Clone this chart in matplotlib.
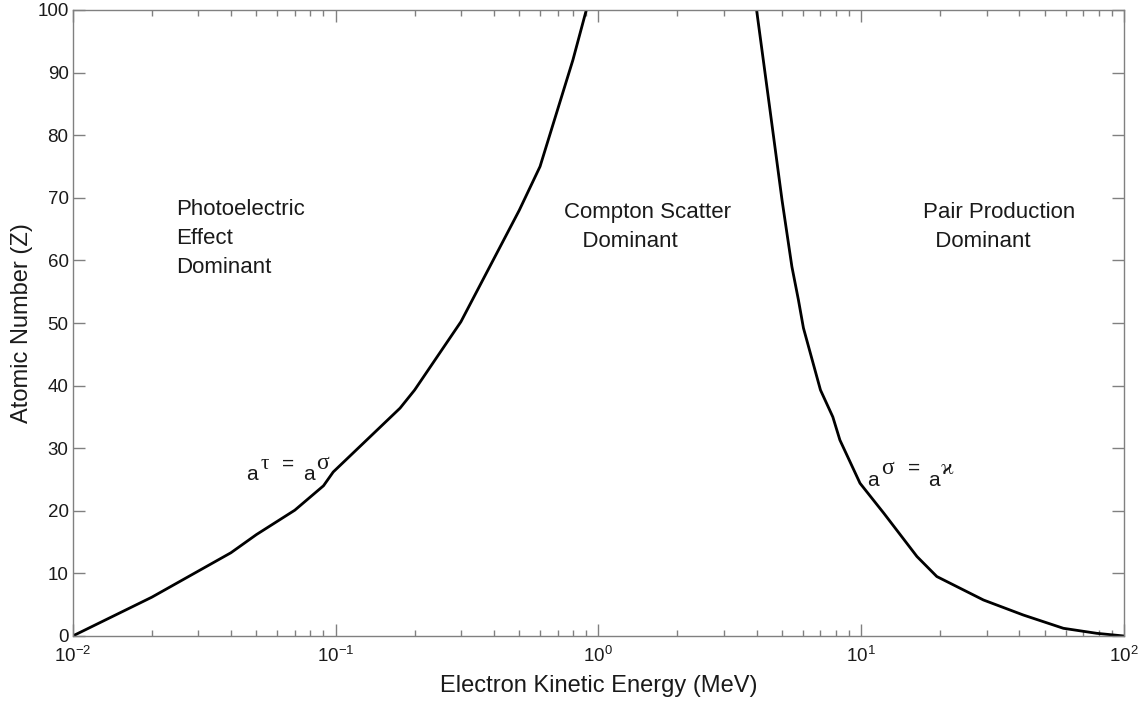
import matplotlib
matplotlib.use("Agg")
import matplotlib.pyplot as plt
from matplotlib.ticker import LogLocator, NullFormatter, LogFormatterMathtext, MultipleLocator

# ---- data ----
E_left = [0.01, 0.02, 0.04, 0.05, 0.07, 0.09, 0.098, 0.176, 0.2, 0.3, 0.5, 0.6, 0.8, 0.9]
Z_left = [0, 6.2, 13.3, 16.2, 20.1, 24.0, 26.2, 36.4, 39.3, 50.2, 68.0, 75.0, 92.0, 100]

E_right = [4.0, 4.5, 5.0, 5.45, 5.77, 6.03, 7.0, 7.8, 8.3, 9.9, 12.2, 16.3, 19.4, 29.2, 41.4, 58.8, 78.7, 100]
Z_right = [100, 84.0, 69.6, 59.0, 53.7, 49.2, 39.3, 35.0, 31.3, 24.4, 19.6, 12.7, 9.5, 5.75, 3.35, 1.23, 0.43, 0]

region_labels = ["Photoelectric\nEffect\nDominant", "Compton Scatter\n   Dominant", "Pair Production\n  Dominant"]
x_label = "Electron Kinetic Energy (MeV)"
y_label = "Atomic Number (Z)"

plt.rcParams['font.family'] = ['Liberation Sans', 'DejaVu Sans']
plt.rcParams['mathtext.fontset'] = 'custom'
plt.rcParams['mathtext.rm'] = 'Liberation Sans'
plt.rcParams['mathtext.it'] = 'Liberation Sans:italic'
plt.rcParams['mathtext.bf'] = 'Liberation Sans:bold'

W, H = 1145, 706
fig = plt.figure(figsize=(W / 100, H / 100), dpi=100)
ax_l, ax_r, ax_t, ax_b = 72.7, 1124.0, 10.0, 636.0
ax = fig.add_axes([ax_l / W, 1 - ax_b / H, (ax_r - ax_l) / W, (ax_b - ax_t) / H])

ax.plot(E_left, Z_left, color='black', lw=2.0)
ax.plot(E_right, Z_right, color='black', lw=2.0)

ax.set_xscale('log')
ax.set_xlim(1e-2, 1e2)
ax.set_ylim(0, 100)
ax.xaxis.set_major_locator(LogLocator(base=10, numticks=10))
ax.xaxis.set_minor_locator(LogLocator(base=10, subs=range(2, 10), numticks=10))
ax.xaxis.set_minor_formatter(NullFormatter())
ax.xaxis.set_major_formatter(LogFormatterMathtext())
ax.yaxis.set_major_locator(MultipleLocator(10))

spine_col = '#808080'
for s in ax.spines.values():
    s.set_color(spine_col)
    s.set_linewidth(1.0)
txt_col = '#1a1a1a'
ax.tick_params(which='both', direction='in', top=True, right=True, color=spine_col,
               labelsize=13.5, labelcolor=txt_col)
ax.tick_params(which='major', length=8.5, width=1.0)
ax.tick_params(which='minor', length=4.3, width=1.0)
ax.tick_params(axis='x', pad=7)
ax.tick_params(axis='y', pad=3)

ax.set_xlabel(x_label, fontsize=17, color=txt_col)
ax.set_ylabel(y_label, fontsize=17, color=txt_col)
ax.xaxis.set_label_coords(0.5, -(686 - ax_b) / (ax_b - ax_t), transform=ax.transAxes)
ax.xaxis.label.set_va('center')
ax.yaxis.set_label_coords(-(ax_l - 22) / (ax_r - ax_l), 0.5, transform=ax.transAxes)
ax.yaxis.label.set_va('center')

def fx(px):
    return px / W
def fy(py):
    return 1 - py / H

for (px, py), lab in zip([(176, 199), (564, 202), (923, 202)], region_labels):
    fig.text(fx(px), fy(py), lab, fontsize=16, va='top', ha='left',
             linespacing=1.5, color=txt_col)

greek = ['Liberation Serif', 'DejaVu Serif']
# a tau = a sigma
fig.text(fx(246), fy(480), 'a', fontsize=15, va='baseline', ha='left', color=txt_col)
fig.text(fx(261), fy(469), '\u03c4', fontsize=15, va='baseline', ha='left', family=greek, color=txt_col)
fig.text(fx(282), fy(470), '=', fontsize=15, va='baseline', ha='left', color=txt_col)
fig.text(fx(303), fy(480), 'a', fontsize=15, va='baseline', ha='left', color=txt_col)
fig.text(fx(316), fy(469), '\u03c3', fontsize=17, va='baseline', ha='left', family=greek, color=txt_col)
# a sigma = a kappa
fig.text(fx(867), fy(486), 'a', fontsize=15, va='baseline', ha='left', color=txt_col)
fig.text(fx(881), fy(474), '\u03c3', fontsize=17, va='baseline', ha='left', family=greek, color=txt_col)
fig.text(fx(908), fy(474), '=', fontsize=15, va='baseline', ha='left', color=txt_col)
fig.text(fx(928), fy(486), 'a', fontsize=15, va='baseline', ha='left', color=txt_col)
fig.text(fx(941), fy(474), '\u03f0', fontsize=16, va='baseline', ha='left', family=greek, color=txt_col)

fig.savefig('out.png', dpi=100)
